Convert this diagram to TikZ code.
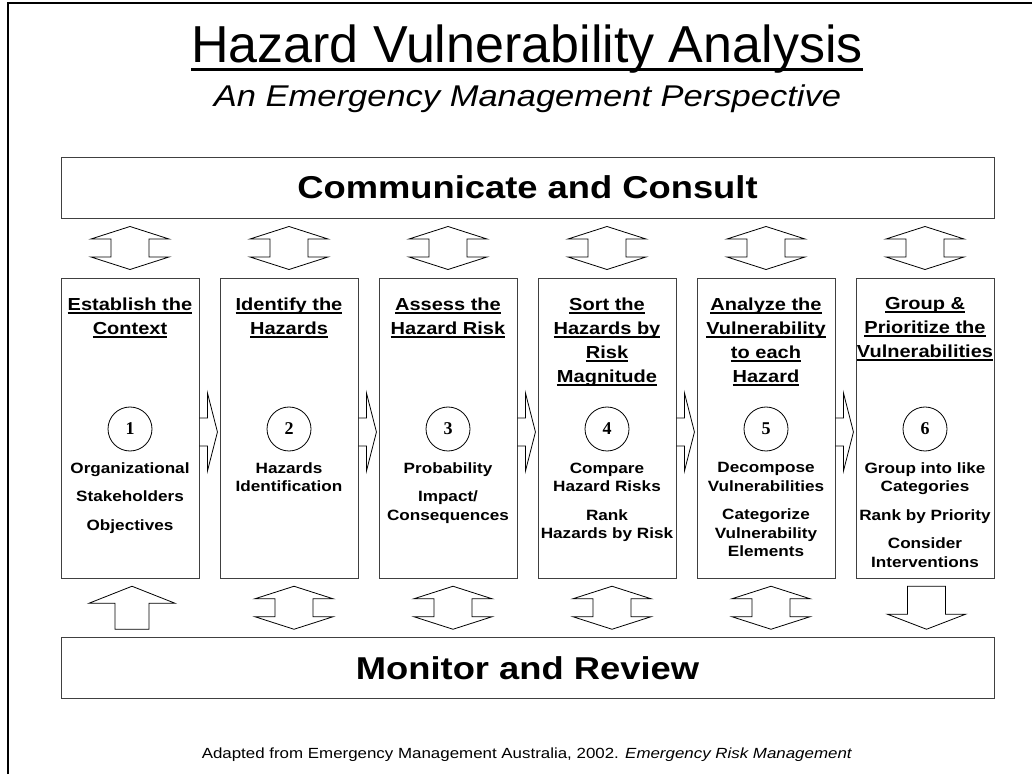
\documentclass[tikz,border=0pt]{standalone}
\usepackage{fontspec}
\setmainfont{Liberation Sans}
\newfontfamily\wideface[FakeStretch=1.15]{Liberation Sans}
\newfontfamily\digitface{Liberation Serif}
\usetikzlibrary{calc}

\newcommand\ulbar[1]{\leavevmode\setbox0\hbox{#1}\rlap{\vrule height -1.5pt depth 3.5pt width \wd0}\box0}

\tikzset{
    boxline/.style={draw=black!75, line width=0.9pt},
    band/.style={boxline, minimum width=933pt, minimum height=61pt, inner sep=0pt,
        font=\wideface\bfseries\fontsize{31.6}{36}\selectfont},
    stage/.style={boxline, minimum width=138pt, minimum height=300pt, inner sep=0pt},
    headtext/.style={align=center, inner sep=0pt, anchor=north,
        font=\wideface\bfseries\fontsize{17.4}{24}\selectfont},
    bodytext/.style={align=center, inner sep=0pt, anchor=north,
        font=\wideface\bfseries\fontsize{14.9}{18.5}\selectfont},
    stepnum/.style={circle, draw, line width=0.8pt, minimum size=44pt, inner sep=0pt,
        font=\digitface\bfseries\fontsize{18}{18}\selectfont},
    blockarrow/.style={draw=black, line width=0.8pt, line join=miter},
    pics/updown/.style={code={
        \draw[blockarrow] (0,21.5) -- (39,9) -- (19,9) -- (19,-9) -- (39,-9) -- (0,-21.5)
            -- (-39,-9) -- (-19,-9) -- (-19,9) -- (-39,9) -- cycle;}},
    pics/uparrow/.style={code={
        \draw[blockarrow] (0,21.5) -- (43,4.5) -- (17,4.5) -- (17,-21.5) -- (-17,-21.5)
            -- (-17,4.5) -- (-43,4.5) -- cycle;}},
    pics/downarrow/.style={code={
        \draw[blockarrow] (0,-21.5) -- (39,-6.5) -- (19,-6.5) -- (19,21.5) -- (-19,21.5)
            -- (-19,-6.5) -- (-39,-6.5) -- cycle;}},
    pics/rightarrow/.style={code={
        \draw[blockarrow] (0,14) -- (8,14) -- (8,39) -- (18,0) -- (8,-39) -- (8,-14) -- (0,-14);}},
}

\begin{document}
\begin{tikzpicture}[x=1pt, y=1pt]
    \useasboundingbox (0,0) rectangle (1032,774);
    \draw[line width=2pt] (8,0) -- (8,771) -- (1032,771);

    \node[inner sep=0pt, anchor=base, font=\fontsize{52}{60}\selectfont] (title) at (527,711)
        {Hazard Vulnerability Analysis};
    \draw[line width=3pt] ([yshift=-7pt]title.base west) -- ([yshift=-7pt]title.base east);
    \node[inner sep=0pt, anchor=base, font=\wideface\itshape\fontsize{30}{36}\selectfont] (subtitle)
        at (527.5,667) {An Emergency Management Perspective};

    \node[band] (comm) at (527.5,586.5) {Communicate and Consult};
    \node[band] (monitor) at (527.5,106) {Monitor and Review};

    \foreach \i in {1,...,6} {
        \node[stage] (col\i) at ({130+159*(\i-1)},346) {};
        \node[stepnum] (num\i) at ({130+159*(\i-1)},345) {\i};
        \pic at ($(col\i.north)!0.5!(col\i.north |- comm.south)$) {updown};
    }
    \foreach \i in {2,...,5}
        \pic at ($(col\i.south)!0.5!(col\i.south |- monitor.north)+(5,0)$) {updown};
    \pic at ($(col1.south)!0.5!(col1.south |- monitor.north)+(2,0)$) {uparrow};
    \pic at ($(col6.south)!0.5!(col6.south |- monitor.north)+(1.5,0)$) {downarrow};
    \foreach \i in {1,...,5}
        \pic at ([yshift=-4pt]col\i.east) {rightarrow};

    \node[headtext] (head1) at ([yshift=-20pt]col1.north) {\ulbar{Establish the}\\\ulbar{Context}};
    \node[headtext] (head2) at ([yshift=-20pt]col2.north) {\ulbar{Identify the}\\\ulbar{Hazards}};
    \node[headtext] (head3) at ([yshift=-20pt]col3.north) {\ulbar{Assess the}\\\ulbar{Hazard Risk}};
    \node[headtext] (head4) at ([yshift=-20pt]col4.north)
        {\ulbar{Sort the}\\\ulbar{Hazards by}\\\ulbar{Risk}\\\ulbar{Magnitude}};
    \node[headtext] (head5) at ([yshift=-20pt]col5.north)
        {\ulbar{Analyze the}\\\ulbar{Vulnerability}\\\ulbar{to each}\\\ulbar{Hazard}};
    \node[headtext] (head6) at ([yshift=-20pt]col6.north)
        {\ulbar{Group \&}\\\ulbar{Prioritize the}\\\ulbar{Vulnerabilities}};

    \node[bodytext] (body1) at ([yshift=-11pt]num1.south)
        {Organizational\\[10pt]Stakeholders\\[10pt]Objectives};
    \node[bodytext] (body2) at ([yshift=-11pt]num2.south) {Hazards\\Identification};
    \node[bodytext] (body3) at ([yshift=-11pt]num3.south) {Probability\\[10pt]Impact/\\Consequences};
    \node[bodytext] (body4) at ([yshift=-11pt]num4.south)
        {Compare\\Hazard Risks\\[10pt]Rank\\Hazards by Risk};
    \node[bodytext] (body5) at ([yshift=-11pt]num5.south)
        {Decompose\\Vulnerabilities\\[10pt]Categorize\\Vulnerability\\Elements};
    \node[bodytext] (body6) at ([yshift=-11pt]num6.south)
        {Group into like\\Categories\\[10pt]Rank by Priority\\[10pt]Consider\\Interventions};

    \node[inner sep=0pt, anchor=base, font=\wideface\fontsize{14.7}{18}\selectfont] (source) at (527,16)
        {Adapted from Emergency Management Australia, 2002. \textit{Emergency Risk Management}};
\end{tikzpicture}
\end{document}
